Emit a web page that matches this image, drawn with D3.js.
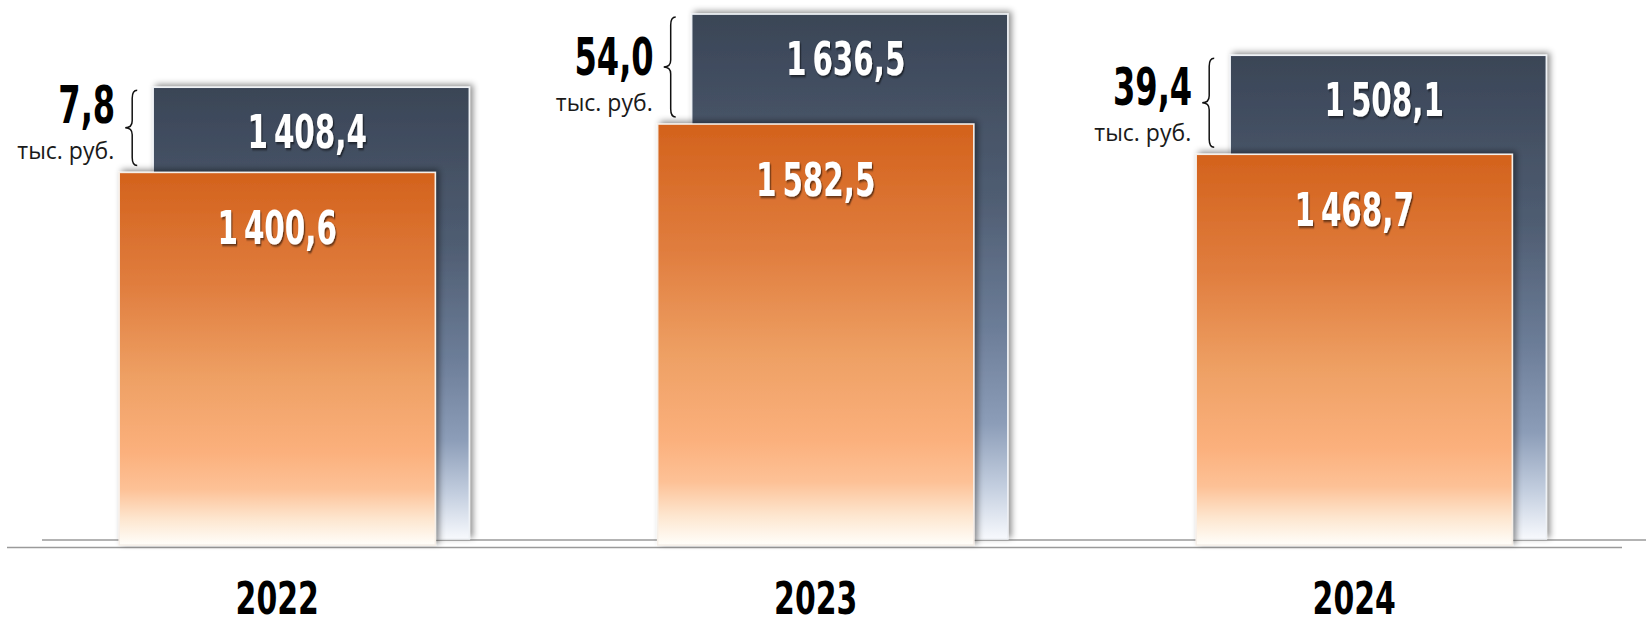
<!DOCTYPE html>
<html lang="ru">

<head>
    <meta charset="UTF-8">
    <title>income</title>
    <script src="https://d3js.org/d3.v7.min.js"></script>
    <style>
        body { margin: 0; background: #fff; }
    </style>
</head>

<body>

    <script>
        var years = ["2022", "2023", "2024"];
        var backValues = [1408.4, 1636.5, 1508.1];   // blue bars
        var frontValues = [1400.6, 1582.5, 1468.7];  // orange bars
        var diffValues = [7.8, 54.0, 39.4];
        var unitLabel = "тыс. руб.";

        var width = 1646;
        var height = 624;

        var ru = d3.formatLocale({ decimal: ",", thousands: "\u2009", grouping: [3], currency: ["", ""] });
        var fmt = ru.format(",.1f");

        var svg = d3.select("body")
            .append("svg")
            .attr("width", width)
            .attr("height", height);

        var defs = svg.append("defs");

        var gBlue = defs.append("linearGradient").attr("id", "gBlue")
            .attr("x1", 0).attr("y1", 0).attr("x2", 0).attr("y2", 1);
        [[0, "#3a4556"], [0.35, "#4f5d72"], [0.6, "#6c7d98"], [0.78, "#8c9db8"], [0.9, "#c3cedf"], [1, "#f7f9fd"]]
            .forEach(function (s) { gBlue.append("stop").attr("offset", s[0]).attr("stop-color", s[1]); });

        var gOrange = defs.append("linearGradient").attr("id", "gOrange")
            .attr("x1", 0).attr("y1", 0).attr("x2", 0).attr("y2", 1);
        [[0, "#d3621c"], [0.3, "#e07d3e"], [0.55, "#eea064"], [0.75, "#fbb07c"], [0.85, "#fdc196"], [0.93, "#fde6cf"], [1, "#fffefa"]]
            .forEach(function (s) { gOrange.append("stop").attr("offset", s[0]).attr("stop-color", s[1]); });

        var shadow = defs.append("filter").attr("id", "shadow")
            .attr("x", "-10%").attr("y", "-10%").attr("width", "120%").attr("height", "120%");
        shadow.append("feDropShadow").attr("dx", 3).attr("dy", -2).attr("stdDeviation", 3)
            .attr("flood-color", "#000").attr("flood-opacity", 0.45);

        var txtShadow = defs.append("filter").attr("id", "txtShadow")
            .attr("x", "-20%").attr("y", "-20%").attr("width", "140%").attr("height", "140%");
        txtShadow.append("feDropShadow").attr("dx", 2).attr("dy", 2).attr("stdDeviation", 1.2)
            .attr("flood-color", "#000").attr("flood-opacity", 0.55);

        // scales
        var x = d3.scaleBand()
            .domain(years)
            .range([8, 1623.5])
            .paddingInner(0.413)
            .paddingOuter(0.2065);

        var shift = 34; // blue bar sits behind and to the right

        var yBack = d3.scaleLinear().domain([0, 1640]).range([539, 13]);
        var yFront = d3.scaleLinear().domain([0, 2000]).range([545, 13]);

        // floor lines
        svg.append("line")
            .attr("x1", 42).attr("x2", width)
            .attr("y1", 540).attr("y2", 540)
            .attr("stroke", "#9a9a9a").attr("stroke-width", 1.5);
        svg.append("line")
            .attr("x1", 7).attr("x2", 1622)
            .attr("y1", 547.5).attr("y2", 547.5)
            .attr("stroke", "#9a9a9a").attr("stroke-width", 1.5);

        var groups = svg.selectAll(".grp")
            .data(years)
            .enter()
            .append("g")
            .attr("class", "grp");

        // blue bars
        groups.append("rect")
            .attr("x", function (d) { return x(d) + shift; })
            .attr("y", function (d, i) { return yBack(backValues[i]); })
            .attr("width", x.bandwidth())
            .attr("height", function (d, i) { return yBack(0) - yBack(backValues[i]); })
            .attr("fill", "url(#gBlue)")
            .attr("stroke", "#eef1f5")
            .attr("stroke-width", 1.5)
            .attr("filter", "url(#shadow)");

        // orange bars
        groups.append("rect")
            .attr("x", function (d) { return x(d); })
            .attr("y", function (d, i) { return yFront(frontValues[i]); })
            .attr("width", x.bandwidth())
            .attr("height", function (d, i) { return yFront(0) - yFront(frontValues[i]); })
            .attr("fill", "url(#gOrange)")
            .attr("stroke", "#f6efe8")
            .attr("stroke-width", 1.5)
            .attr("filter", "url(#shadow)");

        function condensed(sel, cx, y, txt, size, sx, anchor, color) {
            var g = sel.append("g").attr("transform", "translate(" + cx + "," + y + ") scale(" + sx + ",1)");
            return g.append("text")
                .attr("x", 0).attr("y", 0)
                .attr("text-anchor", anchor)
                .attr("font-family", "'DejaVu Sans', sans-serif")
                .attr("font-weight", "bold")
                .attr("font-size", size)
                .attr("fill", color)
                .text(txt);
        }

        groups.each(function (d, i) {
            var g = d3.select(this);
            var left = x(d);
            var bw = x.bandwidth();
            var backTop = yBack(backValues[i]);
            var frontTop = yFront(frontValues[i]);

            // value labels inside bars
            condensed(g, left + shift + bw / 2 - 4, backTop + 61, fmt(backValues[i]), 46, 0.64, "middle", "#fff")
                .attr("filter", "url(#txtShadow)");
            condensed(g, left + bw / 2, frontTop + 72, fmt(frontValues[i]), 46, 0.64, "middle", "#fff")
                .attr("filter", "url(#txtShadow)");

            // brace between the tops
            var sx = left + 13, tip = sx - 7, hook = sx + 5;
            var y1 = backTop + 3, y2 = frontTop - 7, ym = (y1 + y2) / 2;
            g.append("path")
                .attr("d", "M" + hook + "," + y1 +
                    " Q" + sx + "," + y1 + " " + sx + "," + (y1 + 8) +
                    " L" + sx + "," + (ym - 7) +
                    " Q" + sx + "," + ym + " " + tip + "," + ym +
                    " Q" + sx + "," + ym + " " + sx + "," + (ym + 7) +
                    " L" + sx + "," + (y2 - 8) +
                    " Q" + sx + "," + y2 + " " + hook + "," + y2)
                .attr("fill", "none")
                .attr("stroke", "#111")
                .attr("stroke-width", 1.5);

            // difference labels
            condensed(g, left - 4, frontTop - 49, ru.format(".1f")(diffValues[i]), 51, 0.63, "end", "#000");
            g.append("text")
                .attr("x", left - 5)
                .attr("y", frontTop - 13)
                .attr("text-anchor", "end")
                .attr("font-family", "'Open Sans', sans-serif")
                .attr("font-size", 23)
                .attr("fill", "#1a1a1a")
                .text(unitLabel);

            // year label
            condensed(g, left + bw / 2, 614, d, 44, 0.68, "middle", "#000");
        });
    </script>
</body>

</html>
